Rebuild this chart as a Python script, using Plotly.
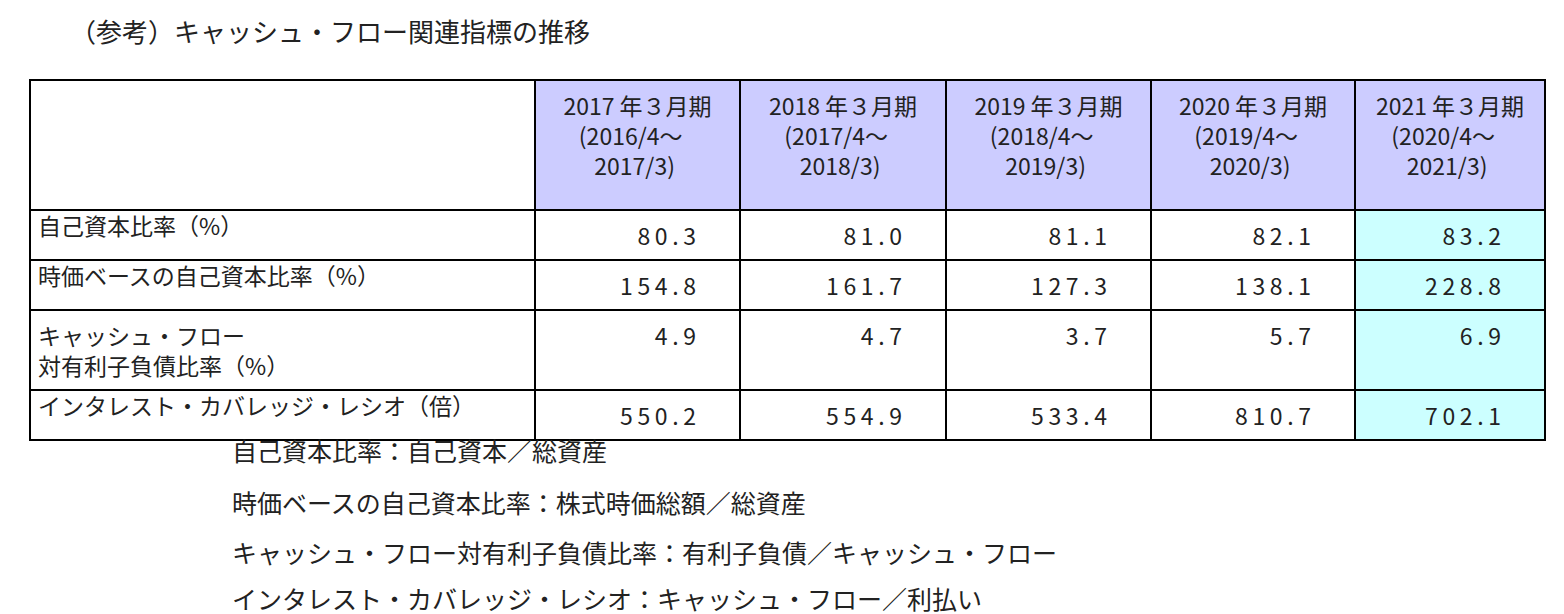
import plotly.graph_objects as go

title = "（参考）キャッシュ・フロー関連指標の推移"
years = ["2017", "2018", "2019", "2020", "2021"]
row_labels = ["自己資本比率（%）", "時価ベースの自己資本比率（%）",
              "キャッシュ・フロー<br>対有利子負債比率（%）", "インタレスト・カバレッジ・レシオ（倍）"]
fy2017 = ["80.3", "154.8", "4.9", "550.2"]
fy2018 = ["81.0", "161.7", "4.7", "554.9"]
fy2019 = ["81.1", "127.3", "3.7", "533.4"]
fy2020 = ["82.1", "138.1", "5.7", "810.7"]
fy2021 = ["83.2", "228.8", "6.9", "702.1"]
notes = ["自己資本比率：自己資本／総資産",
         "時価ベースの自己資本比率：株式時価総額／総資産",
         "キャッシュ・フロー対有利子負債比率：有利子負債／キャッシュ・フロー",
         "インタレスト・カバレッジ・レシオ：キャッシュ・フロー／利払い"]

W, H = 1564, 614
font = dict(family="Noto Sans CJK JP", size=23, color="#222")
nb = "&nbsp;"


def header_text(y):
    return (f"{y} 年３月期<br>{nb * 3}({int(y) - 1}/4～<br>{nb * 6}{y}/3)")


def spaced(v):
    # the reference shows the figures with wide gaps between characters
    return " ".join(v).replace(" ", "&#8201;") + nb * 7


fig = go.Figure(go.Table(
    domain=dict(x=[22 / W, 1537 / W], y=[0, 1 - 72 / H]),
    columnwidth=[505, 205, 206, 205, 204, 190],
    header=dict(values=[""] + [header_text(y) for y in years], height=130,
                fill_color=["white"] + ["#ccccff"] * 5,
                line=dict(color="black", width=1.5),
                align="center", font=font),
    cells=dict(values=[row_labels] + [[spaced(v) for v in col] for col in
                                      [fy2017, fy2018, fy2019, fy2020, fy2021]],
               height=45,
               fill_color=["white"] * 5 + ["#ccffff"],
               line=dict(color="black", width=1.5),
               align=["left", "right", "right", "right", "right", "right"],
               font=font),
))

fig.add_annotation(text=title, x=60 / W, y=1 - 22 / H, xref="paper", yref="paper",
                   xanchor="left", yanchor="middle", showarrow=False,
                   font=dict(family="Noto Sans CJK JP", size=26, color="#222"))
for i, n in enumerate(notes):
    fig.add_annotation(text=n, x=222 / W, y=1 - [442, 494, 544, 590][i] / H,
                       xref="paper", yref="paper", xanchor="left", yanchor="middle",
                       showarrow=False, font=dict(family="Noto Sans CJK JP", size=25, color="#222"))

fig.update_layout(width=W, height=H, margin=dict(l=0, r=0, t=0, b=0),
                  paper_bgcolor="white")
fig.write_html("out.html")
